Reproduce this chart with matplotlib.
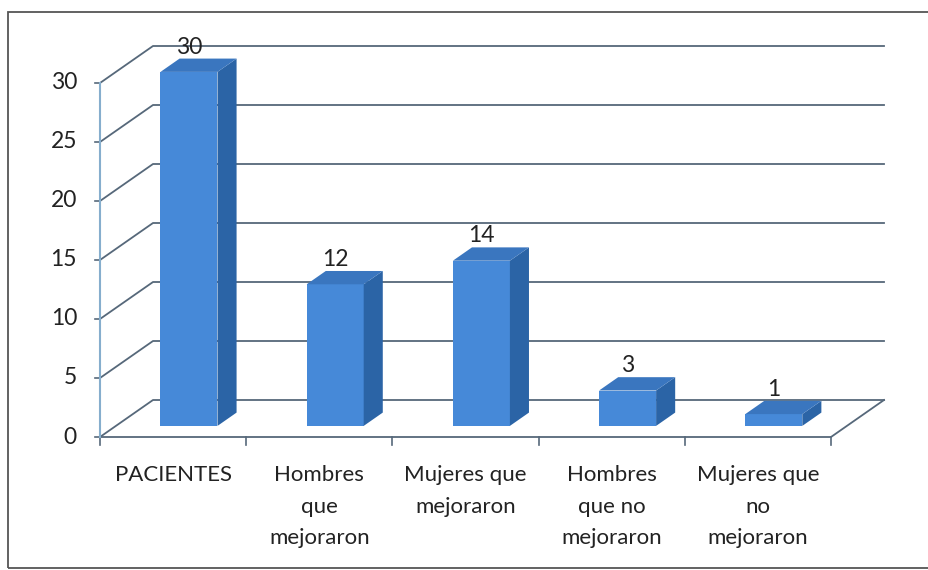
import matplotlib
matplotlib.use("Agg")
from matplotlib import pyplot as plt
from matplotlib.patches import Polygon, Rectangle

categories = ["PACIENTES", "Hombres\nque\nmejoraron", "Mujeres que\nmejoraron",
              "Hombres\nque no\nmejoraron", "Mujeres que\nno\nmejoraron"]
values = [30, 12, 14, 3, 1]
yticks = [0, 5, 10, 15, 20, 25, 30]

W, H = 929, 570
# pixel scale of the front plane
CAT_PX = 146.2
UNIT_PX = 11.8
X0_PX = 100
Y0_PX = 437
# depth of the pseudo-3D box, in data units
DX = 53 / CAT_PX
DY = 37 / UNIT_PX
Z_FRONT, Z_BACK = 0.30, 0.66
BAR_W = 57 / CAT_PX

FRONT = "#4689d8"
SIDE = "#2b64a6"
TOP = "#3a76bf"
GRID = "#56687a"

plt.rcParams["font.family"] = ["Lato", "DejaVu Sans"]

fig = plt.figure(figsize=(W / 100, H / 100), dpi=100)
ax = fig.add_axes([0, 0, 1, 1])
ax.set_xlim(-X0_PX / CAT_PX, (W - X0_PX) / CAT_PX)
ax.set_ylim(-(H - Y0_PX) / UNIT_PX, Y0_PX / UNIT_PX)
ax.axis("off")

# outer frame of the chart area (right edge falls off the page)
fig.patches.append(Rectangle((8 / W, 1 - 568 / H), 940 / W, 556 / H,
                             transform=fig.transFigure, fill=False,
                             edgecolor="#555555", lw=1.3))

n = len(values)

# left wall + back wall grid lines
for v in yticks:
  ax.plot([0, DX, n + DX], [v, v + DY, v + DY], color=GRID, lw=1.3, zorder=1)
  ax.plot([-5 / CAT_PX, 0], [v, v], color=GRID, lw=1.2, zorder=1)
  ax.text(-23 / CAT_PX, v, str(v), ha="right", va="center", fontsize=16.5, color="#222222")

# floor
ax.plot([0, n, n + DX], [0, 0, DY], color=GRID, lw=1.3, zorder=1)
for i in range(n + 1):
  ax.plot([i, i], [0, -8 / UNIT_PX], color=GRID, lw=1.2, zorder=1)

# vertical axis line
ax.plot([0, 0], [0, yticks[-1]], color="#86aecd", lw=1.5, zorder=2)

for i, (cat, v) in enumerate(zip(categories, values)):
  xl = i + 0.5 - BAR_W / 2
  xr = i + 0.5 + BAR_W / 2
  fx, fy = Z_FRONT * DX, Z_FRONT * DY
  bx, by = Z_BACK * DX, Z_BACK * DY
  # front face
  ax.bar(xl + fx, v, width=BAR_W, bottom=fy, align="edge", color=FRONT, zorder=3)
  # side face
  ax.add_patch(Polygon([(xr + fx, fy), (xr + bx, by), (xr + bx, by + v), (xr + fx, fy + v)],
                       closed=True, facecolor=SIDE, edgecolor="none", zorder=3))
  # top face
  ax.add_patch(Polygon([(xl + fx, fy + v), (xr + fx, fy + v), (xr + bx, by + v), (xl + bx, by + v)],
                       closed=True, facecolor=TOP, edgecolor="none", zorder=3))
  ax.text(i + 0.5 + fx, v + by + 1 / UNIT_PX, str(v), ha="center", va="bottom",
          fontsize=16.5, color="#222222", zorder=4)
  ax.text(i + 0.5, -28 / UNIT_PX, cat, ha="center", va="top", fontsize=16,
          color="#222222", linespacing=1.73)

fig.savefig("out.png", dpi=100)
